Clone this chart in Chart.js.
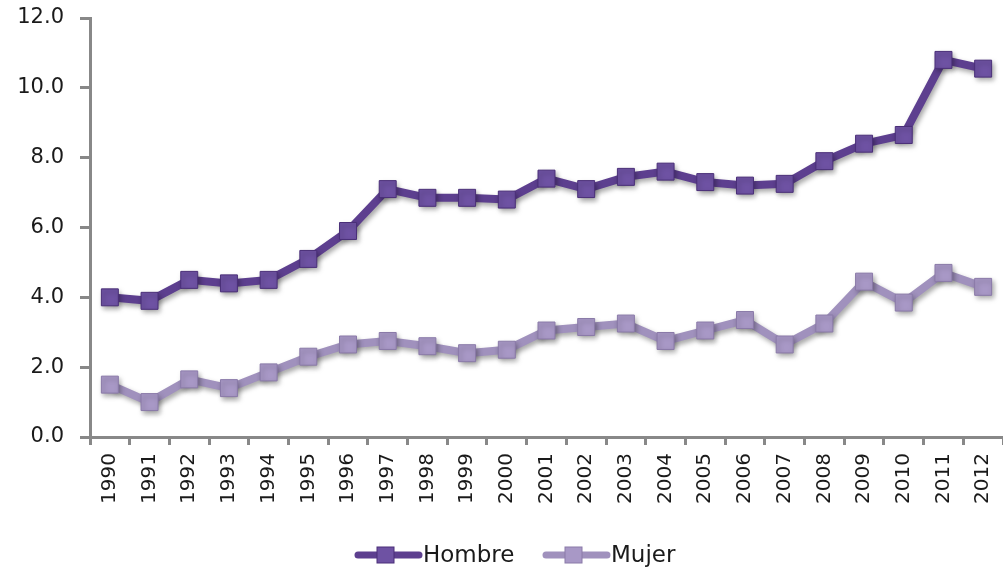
<!DOCTYPE html>
<html>
<head>
<meta charset="utf-8">
<script src="https://cdn.jsdelivr.net/npm/chart.js@4"></script>
<style>
html,body{margin:0;padding:0;background:#fff;}
#wrap{width:1003px;height:571px;}
</style>
</head>
<body>
<div id="wrap"><canvas id="c" width="1003" height="571"></canvas></div>
<script>
const years = ['1990','1991','1992','1993','1994','1995','1996','1997','1998','1999','2000','2001','2002','2003','2004','2005','2006','2007','2008','2009','2010','2011','2012'];
const hombre = [4.0,3.9,4.5,4.4,4.5,5.1,5.9,7.1,6.85,6.85,6.8,7.4,7.1,7.45,7.6,7.3,7.2,7.25,7.9,8.4,8.65,10.8,10.55];
const mujer = [1.5,1.0,1.65,1.4,1.85,2.3,2.65,2.75,2.6,2.4,2.5,3.05,3.15,3.25,2.75,3.05,3.35,2.65,3.25,4.45,3.85,4.7,4.3];
const seriesNames = ['Hombre','Mujer'];
const yTicks = [0,2,4,6,8,10,12];

const FONT = "'DejaVu Sans', sans-serif";
const colors = {
  hLine:'#5d3f8f', hFill:'#6e52a3', hBorder:'#4a2f78',
  mLine:'#a091bd', mFill:'#a898c6', mBorder:'#8a7aa8'
};

const shadowPlugin = {
  id:'shadow',
  beforeDatasetsDraw(chart){
    const ctx = chart.ctx;
    ctx.save();
    ctx.shadowColor='rgba(0,0,0,0.35)';
    ctx.shadowBlur=5;
    ctx.shadowOffsetX=2;
    ctx.shadowOffsetY=3;
  },
  afterDatasetsDraw(chart){ chart.ctx.restore(); }
};

const legendPlugin = {
  id:'customLegend',
  afterDraw(chart){
    const ctx = chart.ctx;
    const items = [
      {name:seriesNames[0], line:colors.hLine, fill:colors.hFill, border:colors.hBorder, x0:355},
      {name:seriesNames[1], line:colors.mLine, fill:colors.mFill, border:colors.mBorder, x0:543}
    ];
    const y = 555;
    ctx.save();
    items.forEach(it=>{
      ctx.strokeStyle = it.line;
      ctx.lineWidth = 7;
      ctx.lineCap='round';
      ctx.beginPath(); ctx.moveTo(it.x0+3,y); ctx.lineTo(it.x0+64,y); ctx.stroke();
      ctx.fillStyle = it.fill; ctx.strokeStyle = it.border; ctx.lineWidth=1;
      ctx.fillRect(it.x0+22,y-8,17,16); ctx.strokeRect(it.x0+22,y-8,17,16);
      ctx.fillStyle='#1a1a1a';
      ctx.font = "23px " + FONT;
      ctx.textBaseline='middle'; ctx.textAlign='left';
      ctx.fillText(it.name, it.x0+68, y+1);
    });
    ctx.restore();
  }
};

new Chart(document.getElementById('c'), {
  type:'line',
  data:{
    labels:years,
    datasets:[
      {label:seriesNames[0], data:hombre, borderColor:colors.hLine, borderWidth:8,
       pointStyle:'rect', pointRadius:12, pointBackgroundColor:colors.hFill, pointBorderColor:colors.hBorder, pointBorderWidth:1, tension:0},
      {label:seriesNames[1], data:mujer, borderColor:colors.mLine, borderWidth:8,
       pointStyle:'rect', pointRadius:12, pointBackgroundColor:colors.mFill, pointBorderColor:colors.mBorder, pointBorderWidth:1, tension:0}
    ]
  },
  options:{
    responsive:false,
    animation:false,
    devicePixelRatio:1,
    layout:{autoPadding:false, padding:{top:18,right:-5,bottom:50,left:0}},
    plugins:{legend:{display:false}, tooltip:{enabled:false}},
    scales:{
      y:{
        min:0,max:12,
        afterFit(s){ s.width = 90; s.paddingTop = 0; s.paddingBottom = 0; },
        afterBuildTicks(s){ s.ticks = yTicks.map(v=>({value:v})); },
        ticks:{font:{family:FONT,size:21}, color:'#1a1a1a', padding:16, callback:v=>Number(v).toFixed(1)},
        grid:{drawOnChartArea:false, drawTicks:true, tickLength:10, color:'#888', lineWidth:3},
        border:{color:'#888', width:3}
      },
      x:{
        offset:true,
        afterFit(s){ s.height = 84; s.paddingLeft = 0; s.paddingRight = 0; },
        ticks:{font:{family:FONT,size:20}, color:'#1a1a1a', minRotation:90, maxRotation:90, padding:8, autoSkip:false},
        grid:{offset:true, drawOnChartArea:false, drawTicks:true, tickLength:8, color:'#888', lineWidth:3},
        border:{color:'#888', width:3}
      }
    }
  },
  plugins:[shadowPlugin, legendPlugin]
});
</script>
</body>
</html>
